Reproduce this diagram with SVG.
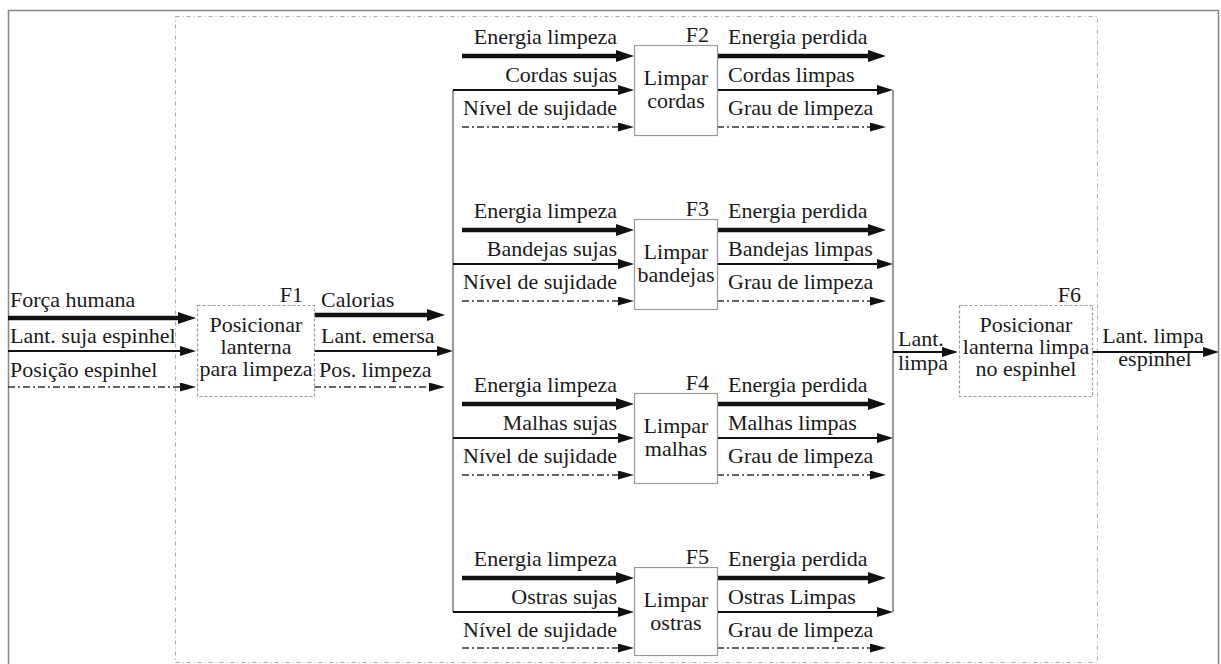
<svg xmlns="http://www.w3.org/2000/svg" width="1221" height="664" viewBox="0 0 1221 664">
<style>
.t text{font-family:"Times New Roman","Liberation Serif","Nimbus Roman","DejaVu Serif","Noto Serif",serif;font-size:22px;fill:#1a1a1a}
.m{text-anchor:middle}.e{text-anchor:end}
.thick{stroke:#111;stroke-width:4.5;fill:none}
.mat{stroke:#111;stroke-width:2.2;fill:none}
.sig{stroke:#333;stroke-width:1.5;fill:none;stroke-dasharray:7 3 2 3}
.bus{stroke:#777;stroke-width:1.5;fill:none}
.box{fill:#fff;stroke:#999;stroke-width:1.2}
.dbox{fill:#fff;stroke:#9a9a9a;stroke-width:1.2;stroke-dasharray:3 2}
</style>
<defs>
<marker id="hT" markerUnits="userSpaceOnUse" markerWidth="18" markerHeight="12" refX="0" refY="6" orient="auto"><path d="M0,0 L18,6 L0,12 z" fill="#111"/></marker>
<marker id="hM" markerUnits="userSpaceOnUse" markerWidth="16" markerHeight="10" refX="0" refY="5" orient="auto"><path d="M0,0 L16,5 L0,10 z" fill="#111"/></marker>
<marker id="hS" markerUnits="userSpaceOnUse" markerWidth="16" markerHeight="9" refX="0" refY="4.5" orient="auto"><path d="M0,0 L16,4.5 L0,9 z" fill="#111"/></marker>
</defs>
<rect width="1221" height="664" fill="#fff"/>
<g id="frame">
<path d="M8.5,664 V10.5 H1218.5 V664" fill="none" stroke="#888" stroke-width="1.5"/>
<rect x="175.5" y="16.5" width="922" height="646" fill="none" stroke="#aaa" stroke-width="1" stroke-dasharray="4 3 1 3"/>
</g>
<g id="connectors">
<line class="thick" x1="8" y1="318" x2="178" y2="318" marker-end="url(#hT)"/>
<line class="mat" x1="8" y1="351" x2="180" y2="351" marker-end="url(#hM)"/>
<line class="sig" x1="8" y1="387" x2="180" y2="387" marker-end="url(#hS)"/>
<line class="thick" x1="314" y1="315" x2="427" y2="315" marker-end="url(#hT)"/>
<line class="mat" x1="314" y1="351" x2="437" y2="351" marker-end="url(#hM)"/>
<line class="sig" x1="314" y1="387" x2="429" y2="387" marker-end="url(#hS)"/>
<line class="bus" x1="453" y1="90" x2="453" y2="612"/>
<line class="bus" x1="893" y1="90" x2="893" y2="612"/>
<line class="thick" x1="462" y1="56" x2="616" y2="56" marker-end="url(#hT)"/>
<line class="mat" x1="453" y1="90" x2="618" y2="90" marker-end="url(#hM)"/>
<line class="sig" x1="462" y1="127" x2="618" y2="127" marker-end="url(#hS)"/>
<line class="thick" x1="717" y1="56" x2="868" y2="56" marker-end="url(#hT)"/>
<line class="mat" x1="717" y1="90" x2="877" y2="90" marker-end="url(#hM)"/>
<line class="sig" x1="717" y1="127" x2="870" y2="127" marker-end="url(#hS)"/>
<line class="thick" x1="462" y1="230" x2="616" y2="230" marker-end="url(#hT)"/>
<line class="mat" x1="453" y1="264" x2="618" y2="264" marker-end="url(#hM)"/>
<line class="sig" x1="462" y1="301" x2="618" y2="301" marker-end="url(#hS)"/>
<line class="thick" x1="717" y1="230" x2="868" y2="230" marker-end="url(#hT)"/>
<line class="mat" x1="717" y1="264" x2="877" y2="264" marker-end="url(#hM)"/>
<line class="sig" x1="717" y1="301" x2="870" y2="301" marker-end="url(#hS)"/>
<line class="thick" x1="462" y1="404" x2="616" y2="404" marker-end="url(#hT)"/>
<line class="mat" x1="453" y1="438" x2="618" y2="438" marker-end="url(#hM)"/>
<line class="sig" x1="462" y1="475" x2="618" y2="475" marker-end="url(#hS)"/>
<line class="thick" x1="717" y1="404" x2="868" y2="404" marker-end="url(#hT)"/>
<line class="mat" x1="717" y1="438" x2="877" y2="438" marker-end="url(#hM)"/>
<line class="sig" x1="717" y1="475" x2="870" y2="475" marker-end="url(#hS)"/>
<line class="thick" x1="462" y1="578" x2="616" y2="578" marker-end="url(#hT)"/>
<line class="mat" x1="453" y1="612" x2="618" y2="612" marker-end="url(#hM)"/>
<line class="sig" x1="462" y1="648" x2="618" y2="648" marker-end="url(#hS)"/>
<line class="thick" x1="717" y1="578" x2="868" y2="578" marker-end="url(#hT)"/>
<line class="mat" x1="717" y1="612" x2="877" y2="612" marker-end="url(#hM)"/>
<line class="sig" x1="717" y1="648" x2="870" y2="648" marker-end="url(#hS)"/>
<line class="mat" x1="893" y1="352" x2="942" y2="352" marker-end="url(#hM)"/>
<line class="mat" x1="1092" y1="352" x2="1203" y2="352" marker-end="url(#hM)"/>
</g>
<g class="t">
<g id="labels">
<text x="10" y="307">Força humana</text>
<text x="10" y="343">Lant. suja espinhel</text>
<text x="10" y="377">Posição espinhel</text>
<text x="321" y="307">Calorias</text>
<text x="321" y="343">Lant. emersa</text>
<text x="319" y="377">Pos. limpeza</text>
<text x="898" y="346">Lant.</text>
<text x="898" y="370">limpa</text>
<text class="m" x="1153" y="343">Lant. limpa</text>
<text class="m" x="1155" y="366">espinhel</text>
</g>
<g id="F1">
<rect class="dbox" x="197.5" y="305.5" width="117" height="91"/>
<text class="e" x="303" y="302">F1</text>
<text class="m" x="256" y="332">Posicionar</text>
<text class="m" x="256" y="354">lanterna</text>
<text class="m" x="256" y="376">para limpeza</text>
</g>
<g id="F2">
<rect class="box" x="634.5" y="45.5" width="83" height="90"/>
<text class="e" x="709" y="42">F2</text>
<text class="m" x="676" y="85">Limpar</text>
<text class="m" x="676" y="108">cordas</text>
<text class="e" x="617" y="44">Energia limpeza</text>
<text class="e" x="617" y="82">Cordas sujas</text>
<text class="e" x="617" y="115">Nível de sujidade</text>
<text x="728" y="44">Energia perdida</text>
<text x="728" y="82">Cordas limpas</text>
<text x="728" y="115">Grau de limpeza</text>
</g>
<g id="F3">
<rect class="box" x="634.5" y="219.5" width="83" height="90"/>
<text class="e" x="709" y="216">F3</text>
<text class="m" x="676" y="259">Limpar</text>
<text class="m" x="676" y="282">bandejas</text>
<text class="e" x="617" y="218">Energia limpeza</text>
<text class="e" x="617" y="256">Bandejas sujas</text>
<text class="e" x="617" y="289">Nível de sujidade</text>
<text x="728" y="218">Energia perdida</text>
<text x="728" y="256">Bandejas limpas</text>
<text x="728" y="289">Grau de limpeza</text>
</g>
<g id="F4">
<rect class="box" x="634.5" y="393.5" width="83" height="90"/>
<text class="e" x="709" y="390">F4</text>
<text class="m" x="676" y="433">Limpar</text>
<text class="m" x="676" y="456">malhas</text>
<text class="e" x="617" y="392">Energia limpeza</text>
<text class="e" x="617" y="430">Malhas sujas</text>
<text class="e" x="617" y="463">Nível de sujidade</text>
<text x="728" y="392">Energia perdida</text>
<text x="728" y="430">Malhas limpas</text>
<text x="728" y="463">Grau de limpeza</text>
</g>
<g id="F5">
<rect class="box" x="634.5" y="567.5" width="83" height="88"/>
<text class="e" x="709" y="564">F5</text>
<text class="m" x="676" y="607">Limpar</text>
<text class="m" x="676" y="630">ostras</text>
<text class="e" x="617" y="566">Energia limpeza</text>
<text class="e" x="617" y="604">Ostras sujas</text>
<text class="e" x="617" y="637">Nível de sujidade</text>
<text x="728" y="566">Energia perdida</text>
<text x="728" y="604">Ostras Limpas</text>
<text x="728" y="637">Grau de limpeza</text>
</g>
<g id="F6">
<rect class="dbox" x="959.5" y="305.5" width="133" height="91"/>
<text class="e" x="1081" y="302">F6</text>
<text class="m" x="1026" y="332">Posicionar</text>
<text class="m" x="1026" y="354">lanterna limpa</text>
<text class="m" x="1026" y="376">no espinhel</text>
</g>
</g>
</svg>
